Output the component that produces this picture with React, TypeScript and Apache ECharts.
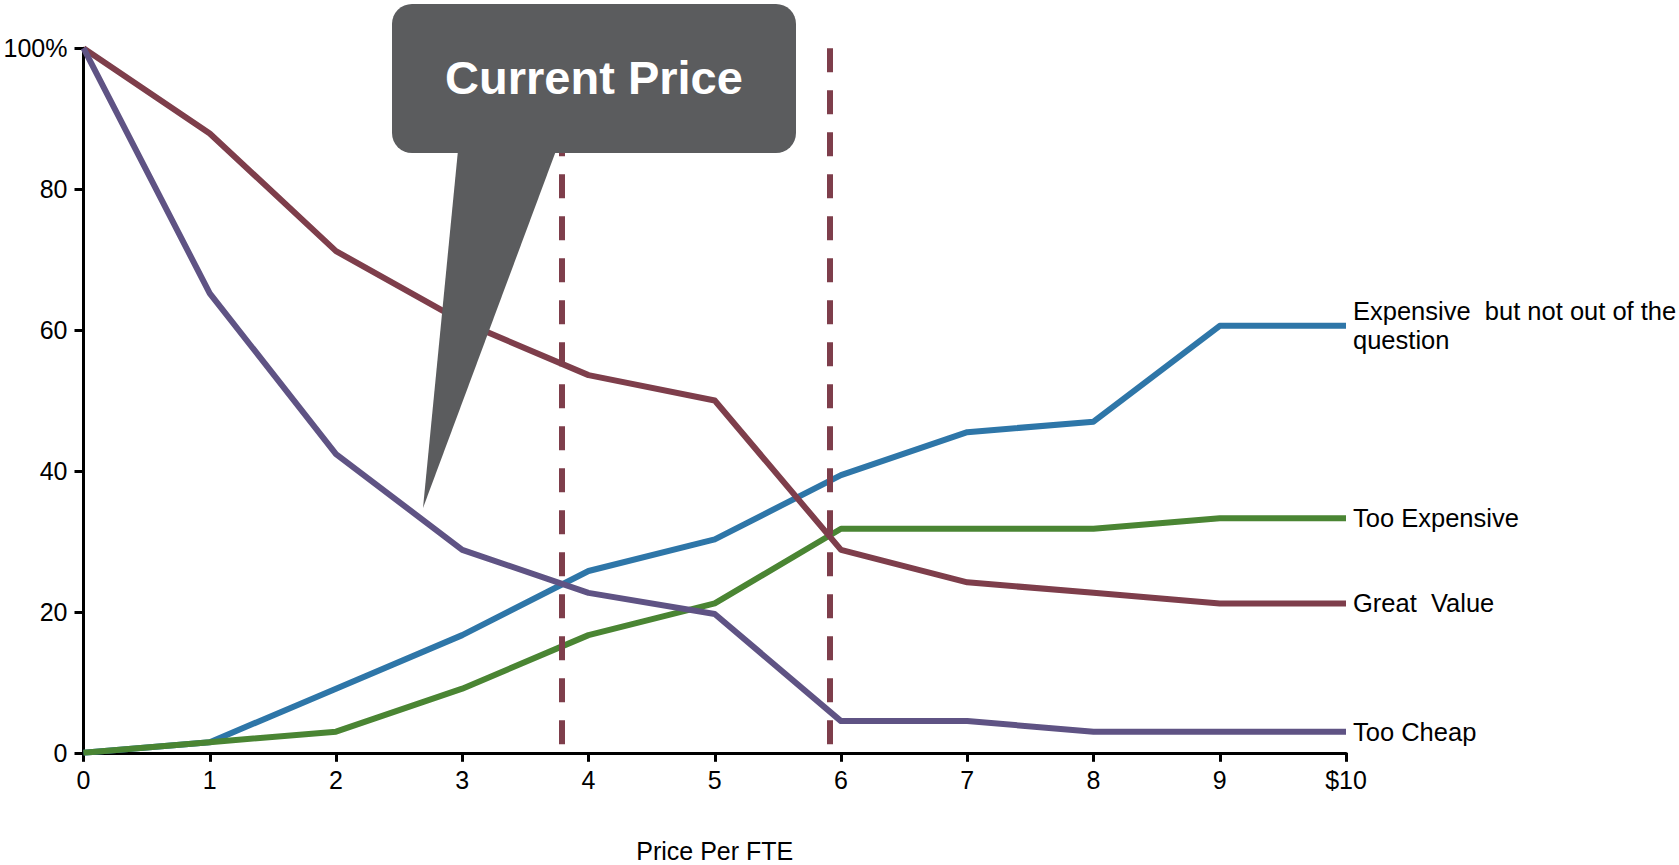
import React, { useEffect, useRef } from "react";
import * as echarts from "echarts";

// Price points (x axis) and share of respondents (%) for each question
const prices = [0, 1, 2, 3, 4, 5, 6, 7, 8, 9, 10];
const expensiveNotOut = [0, 1.5, 9.1, 16.7, 25.8, 30.3, 39.4, 45.5, 47.0, 60.6, 60.6];
const tooExpensive = [0, 1.5, 3.0, 9.1, 16.7, 21.2, 31.8, 31.8, 31.8, 33.3, 33.3];
const greatValue = [100, 87.9, 71.2, 61.2, 53.6, 50.0, 28.8, 24.2, 22.7, 21.2, 21.2];
const tooCheap = [100, 65.2, 42.4, 28.8, 22.7, 19.7, 4.5, 4.5, 3.0, 3.0, 3.0];

const seriesNames = [
  "Expensive but not out of the question",
  "Too Expensive",
  "Great Value",
  "Too Cheap",
];
const endLabels = [
  "Expensive  but not out of the\nquestion",
  "Too Expensive",
  "Great  Value",
  "Too Cheap",
];
const seriesValues = [expensiveNotOut, tooExpensive, greatValue, tooCheap];
const seriesColors = ["#2E76A8", "#4A8533", "#7E3E4B", "#5F5384"];

// Acceptable price range bounds (dashed verticals)
const rangeBounds = [3.79, 5.91];

const FONT = "Liberation Sans, Arial, sans-serif";

export default function App() {
  const ref = useRef<HTMLDivElement>(null);

  useEffect(() => {
    if (!ref.current) return;
    const chart = echarts.init(ref.current, undefined, { renderer: "svg" });

    const lines = seriesValues.map((vals, i) => ({
      name: seriesNames[i],
      type: "line",
      data: prices.map((p, j) => [p, vals[j]]),
      showSymbol: false,
      symbol: "none",
      lineStyle: { color: seriesColors[i], width: 6, join: "round" },
      itemStyle: { color: seriesColors[i] },
      z: 3,
      endLabel: {
        show: true,
        formatter: () => endLabels[i],
        distance: 7,
        color: "#000",
        fontFamily: FONT,
        fontSize: 25.5,
        lineHeight: 29,
      },
    }));

    const boundSeries = {
      name: "range",
      type: "line",
      data: [],
      silent: true,
      markLine: {
        silent: true,
        symbol: ["none", "none"],
        label: { show: false },
        lineStyle: { color: "#7E3E4B", width: 6, type: [24, 18], opacity: 1 },
        data: rangeBounds.map((b) => [
          { coord: [b, 100] },
          { coord: [b, 0] },
        ]),
      },
      z: 2,
    };

    chart.setOption({
      animation: false,
      backgroundColor: "#fff",
      textStyle: { fontFamily: FONT },
      grid: {
        left: 83.5,
        right: 333,
        top: 48.2,
        bottom: 112.2,
        containLabel: false,
        outerBoundsMode: "none",
      },
      xAxis: {
        type: "value",
        min: 0,
        max: 10,
        interval: 1,
        name: "Price Per FTE",
        nameLocation: "middle",
        nameGap: 86,
        nameTextStyle: { color: "#000", fontSize: 25, fontFamily: FONT },
        axisLine: { show: true, onZero: false, lineStyle: { color: "#000", width: 3 } },
        axisTick: { show: true, length: 9, lineStyle: { color: "#000", width: 3 } },
        axisLabel: {
          color: "#000",
          fontSize: 25,
          fontFamily: FONT,
          margin: 15,
          formatter: (v: number) => (v === 10 ? "$10" : String(v)),
        },
        splitLine: { show: false },
      },
      yAxis: {
        type: "value",
        min: 0,
        max: 100,
        interval: 20,
        axisLine: { show: true, lineStyle: { color: "#000", width: 3 } },
        axisTick: { show: true, length: 9, lineStyle: { color: "#000", width: 3 } },
        axisLabel: {
          color: "#000",
          fontSize: 25,
          fontFamily: FONT,
          margin: 16,
          formatter: (v: number) => (v === 100 ? "100%" : String(v)),
        },
        splitLine: { show: false },
      },
      series: [...lines, boundSeries],
      graphic: [
        {
          type: "polygon",
          z: 100,
          zlevel: 1,
          shape: { points: [[459, 140], [560, 140], [423, 508]] },
          style: { fill: "#5B5C5E" },
        },
        {
          type: "rect",
          z: 101,
          zlevel: 1,
          shape: { x: 392, y: 4, width: 404, height: 149, r: 20 },
          style: { fill: "#5B5C5E" },
        },
        {
          type: "text",
          z: 102,
          zlevel: 1,
          x: 594,
          y: 77,
          style: {
            text: "Current Price",
            fill: "#fff",
            fontFamily: FONT,
            fontWeight: "bold",
            fontSize: 47,
            align: "center",
            verticalAlign: "middle",
          },
        },
      ],
    });

    return () => chart.dispose();
  }, []);

  return (
    <div
      ref={ref}
      style={{ position: "absolute", left: 0, top: 0, width: 1679, height: 865 }}
    />
  );
}
